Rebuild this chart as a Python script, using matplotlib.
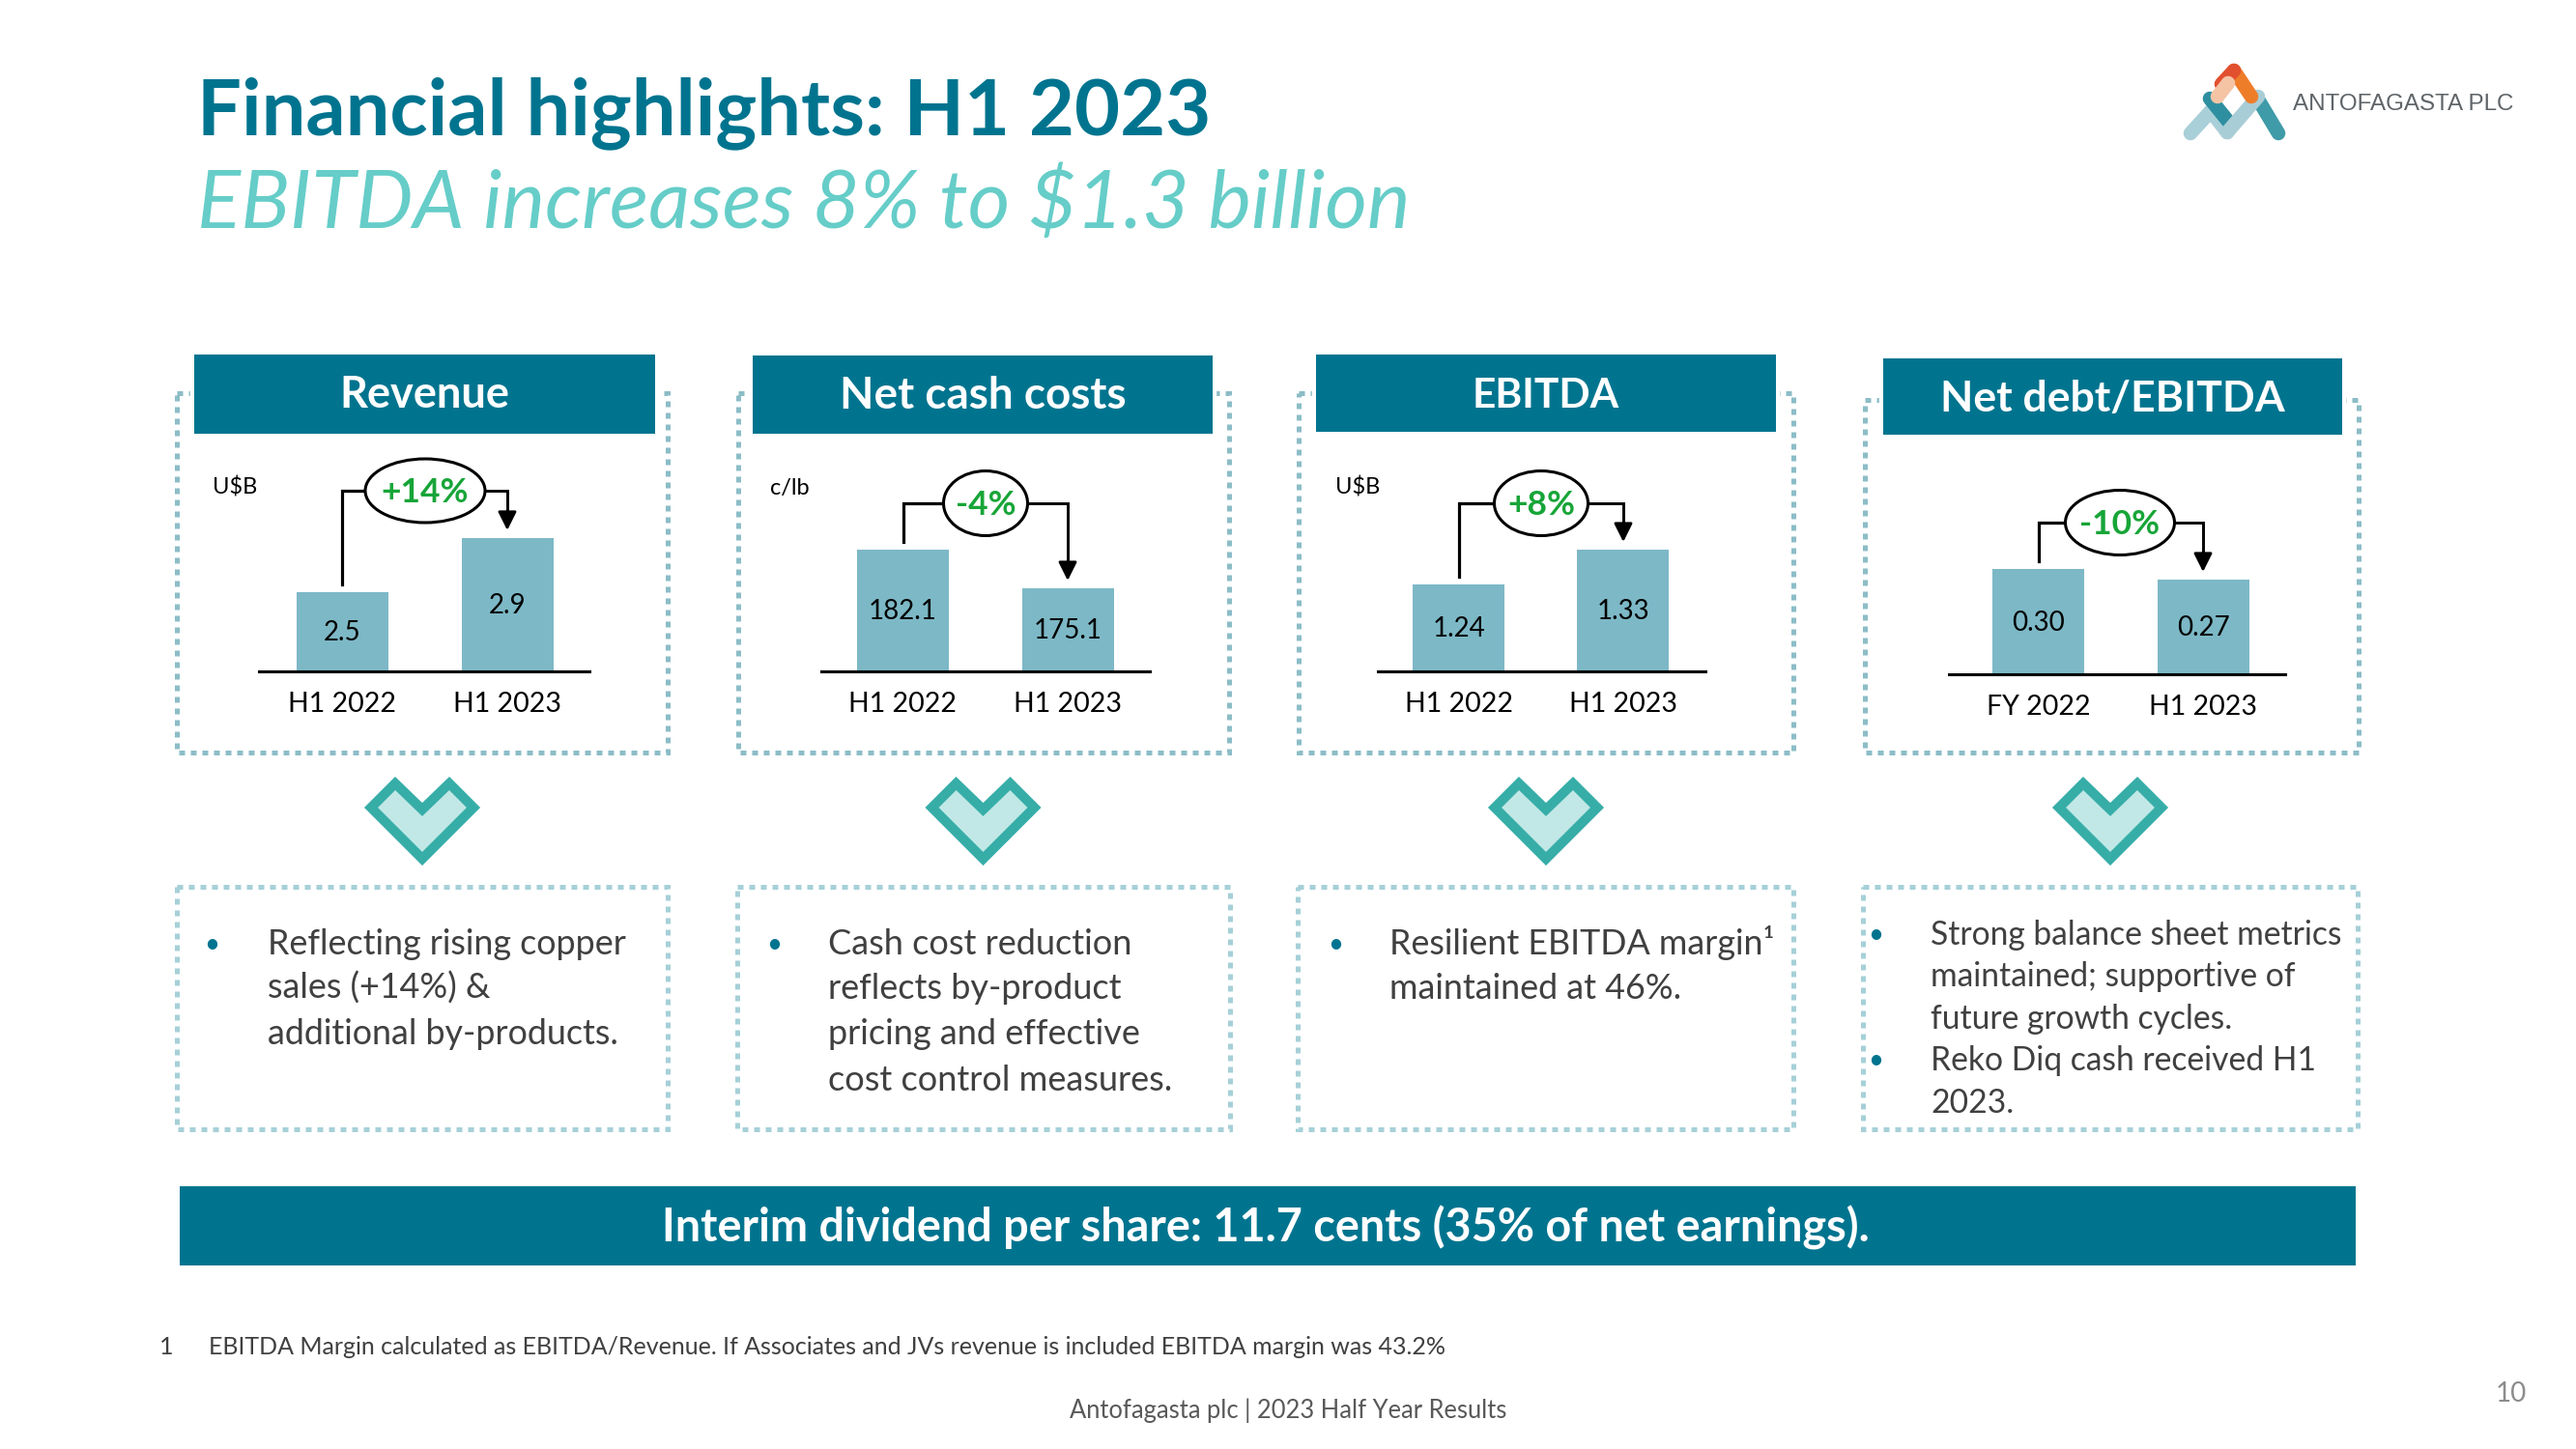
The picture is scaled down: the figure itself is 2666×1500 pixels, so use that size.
import matplotlib
matplotlib.use('Agg')
import matplotlib.pyplot as plt
from matplotlib.patches import Rectangle, Ellipse, Polygon

# values
titles = ['Revenue', 'Net cash costs', 'EBITDA', 'Net debt/EBITDA']
units = ['U$B', 'c/lb', 'U$B', '']
periods = [['H1 2022', 'H1 2023'], ['H1 2022', 'H1 2023'], ['H1 2022', 'H1 2023'], ['FY 2022', 'H1 2023']]
revenue = [2.5, 2.9]
cash_costs = [182.1, 175.1]
ebitda = [1.24, 1.33]
net_debt = [0.30, 0.27]
formats = ['%.1f', '%.1f', '%.2f', '%.2f']
changes = ['+14%', '-4%', '+8%', '-10%']
notes = [
    [['Reflecting rising copper', 'sales (+14%) &', 'additional by-products.']],
    [['Cash cost reduction', 'reflects by-product', 'pricing and effective', 'cost control measures.']],
    [['Resilient EBITDA margin¹', 'maintained at 46%.']],
    [['Strong balance sheet metrics', 'maintained; supportive of', 'future growth cycles.'],
     ['Reko Diq cash received H1', '2023.']],
]
series = [revenue, cash_costs, ebitda, net_debt]

# layout of each panel, in slide pixels
W, H = 2666, 1500
TEAL = '#00748F'
BAR = '#7DB8C6'
GREEN = '#17A538'
axis_x = [(268, 610), (850, 1190), (1426, 1765), (2017, 2365)]
bar_x = [(354, 525), (934.5, 1105), (1510, 1680), (2109.5, 2280)]
base_y = [695, 695, 695, 698]
y_base = [1.914, 160.04, 1.015, 0.0]   # charts do not start at zero
px_per_unit = [140, 5.71, 400, 363]
upper_box = [(183, 691, 407), (764, 1272, 407), (1344, 1856, 407), (1930, 2441, 414)]
lower_box = [(183, 691), (763, 1273), (1343, 1856), (1928, 2440)]
header = [(201, 678, 367, 449, 422), (779, 1255, 368, 449, 423), (1362, 1838, 367, 447, 422), (1949, 2424, 371, 450, 426)]
header_size = [32.5, 33, 30.6, 32]
oval = [(440, 508, 124, 66), (1020, 521, 87, 67), (1595, 521, 97, 67), (2194, 541, 113, 67)]
unit_x = [220, 797, 1382, 0]
chevron_x = [437, 1017.5, 1600, 2184]
text_x = [(219, 277), (801, 857), (1382, 1438), (1941, 1998)]
line_y = [[988, 1034, 1081], [988, 1034, 1081, 1129], [988, 1034], [978, 1021, 1065, 1108, 1152]]
note_size = [25.8, 26, 25.8, 24.2]

plt.rcParams['font.family'] = ['Lato', 'DejaVu Sans']
fig = plt.figure(figsize=(W / 100, H / 100), dpi=100, facecolor='white')
bg = fig.add_axes([0, 0, 1, 1])
bg.set_xlim(0, W)
bg.set_ylim(H, 0)
bg.axis('off')

bg.text(204, 139, 'Financial highlights: H1 2023', color=TEAL, fontsize=58.5, fontweight='bold')
bg.text(204, 236, 'EBITDA increases 8% to $1.3 billion', color='#66CDC8', fontsize=60.5, style='italic')

# logo
logo = [((2267, 138), (2288, 115), '#A9CFD8'), ((2305, 137), (2288, 115), '#A9CFD8'),
        ((2287, 102), (2308, 128), '#2E8FA0'), ((2337, 103), (2358, 138), '#3F9BA8'),
        ((2305, 137), (2337, 100), '#A9CDD6'), ((2312, 73), (2330, 100), '#EE7D2A'),
        ((2299, 87), (2312, 73), '#E2502F'), ((2295, 100), (2306, 86), '#F5C4A5')]
for a, b, c in logo:
    bg.plot([a[0], b[0]], [a[1], b[1]], color=c, lw=10.5, solid_capstyle='round')
bg.text(2373, 114, 'ANTOFAGASTA PLC', color='#5F6468', fontsize=17.4, family='Liberation Sans')


def dotted(x0, x1, y0, y1, color):
    bg.add_patch(Rectangle((x0, y0), x1 - x0, y1 - y0, fill=False, edgecolor=color,
                           lw=3.6, ls=(0, (1.2, 1.2)), capstyle='butt', joinstyle='miter'))


for i in range(4):
    dotted(upper_box[i][0], upper_box[i][1], upper_box[i][2], 779, '#8CBDC7')
    dotted(lower_box[i][0], lower_box[i][1], 918, 1169, '#A6D0D8')

    x0, x1, y0, y1, ty = header[i]
    bg.add_patch(Rectangle((x0, y0), x1 - x0, y1 - y0, facecolor=TEAL, edgecolor='white', lw=6, zorder=3))
    bg.add_patch(Rectangle((x0, y0), x1 - x0, y1 - y0, facecolor=TEAL, edgecolor='none', zorder=3))
    bg.text((x0 + x1) / 2, ty, titles[i], color='white', fontsize=header_size[i], fontweight='bold', ha='center', zorder=4)

    if units[i]:
        bg.text(unit_x[i], 512, units[i], color='black', fontsize=17)

    # the bar chart itself
    ax_x0, ax_x1 = axis_x[i]
    c0, c1 = bar_x[i]
    scale = c1 - c0
    top = 470
    ax = fig.add_axes([ax_x0 / W, 1 - base_y[i] / H, (ax_x1 - ax_x0) / W, (base_y[i] - top) / H])
    ax.patch.set_alpha(0)
    bars = ax.bar([0, 1], series[i], width=95 / scale, bottom=0, color=BAR)
    ax.set_xlim((ax_x0 - c0) / scale, (ax_x1 - c0) / scale)
    ax.set_ylim(y_base[i], y_base[i] + (base_y[i] - top) / px_per_unit[i])
    ax.set_xticks([0, 1], periods[i], fontsize=20.5)
    ax.set_yticks([])
    ax.tick_params(axis='x', length=0, pad=15)
    for s in ['top', 'left', 'right']:
        ax.spines[s].set_visible(False)
    ax.spines['bottom'].set_linewidth(2.2)
    for b, v in zip(bars, series[i]):
        # centre of the visible part, the axis is cut
        ax.annotate(formats[i] % v, (b.get_x() + b.get_width() / 2, (y_base[i] + v) / 2),
                    xytext=(0, -1), textcoords='offset points',
                    ha='center', va='center', fontsize=20, color='black')

    # connector, ends a few pixels above each bar
    start = base_y[i] - (series[i][0] - y_base[i]) * px_per_unit[i] - 8
    tip = base_y[i] - (series[i][1] - y_base[i]) * px_per_unit[i] - 8
    ex, ey, ew, eh = oval[i]
    bg.plot([c0, c0, ex], [start, ey, ey], color='black', lw=2.3, solid_joinstyle='miter')
    bg.plot([ex, c1, c1], [ey, ey, tip - 10], color='black', lw=2.1, solid_joinstyle='miter')
    bg.annotate('', xy=(c1, tip), xytext=(c1, tip - 20),
                arrowprops=dict(arrowstyle='-|>', mutation_scale=29, color='black', lw=2,
                                shrinkA=0, shrinkB=0))
    bg.add_patch(Ellipse((ex, ey), ew, eh, facecolor='white', edgecolor='black', lw=2.2, zorder=3))
    bg.text(ex, ey + 2, changes[i], color=GREEN, fontsize=25.5, fontweight='bold',
            ha='center', va='center', zorder=4)

    # chevron between the boxes
    cx = chevron_x[i]
    bg.add_patch(Polygon([(cx - 53, 836), (cx - 28, 811), (cx, 838), (cx + 28, 811), (cx + 53, 836), (cx, 889)],
                         closed=True, facecolor='#C1E8E6', edgecolor='#37ADA8', lw=7.2, joinstyle='miter'))

    # commentary
    n = 0
    for group in notes[i]:
        bg.text(text_x[i][0], line_y[i][n] - 2, '•', color=TEAL, fontsize=20, ha='center')
        for line in group:
            bg.text(text_x[i][1], line_y[i][n], line, color='#404040', fontsize=note_size[i])
            n += 1

# dividend banner and footers
bg.add_patch(Rectangle((186, 1228), 2252, 82, facecolor=TEAL, edgecolor='none'))
bg.text(1310, 1285, 'Interim dividend per share: 11.7 cents (35% of net earnings).', color='white',
        fontsize=33.7, fontweight='bold', ha='center')
bg.text(165, 1402, '1', color='#404040', fontsize=18)
bg.text(216, 1402, 'EBITDA Margin calculated as EBITDA/Revenue. If Associates and JVs revenue is included EBITDA margin was 43.2%',
        color='#404040', fontsize=18)
bg.text(1333, 1468, 'Antofagasta plc | 2023 Half Year Results', color='#595959', fontsize=18.4, ha='center')
bg.text(2599, 1451, '10', color='#8C8C8C', fontsize=20, ha='center')

fig.savefig('out.png', dpi=100)
